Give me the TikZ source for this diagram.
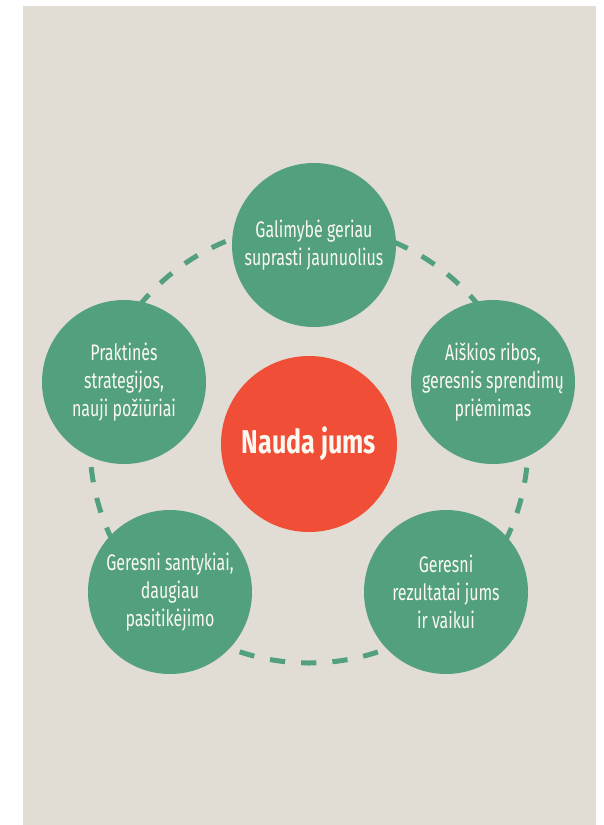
\documentclass[tikz,border=0pt]{standalone}
\usepackage{fontspec}
\setmainfont{Fira Sans}[FakeStretch=0.71]
\newfontfamily\hubfont{Fira Sans}[FakeStretch=0.76]
\usetikzlibrary{positioning}
\definecolor{paper}{RGB}{225,221,213}
\definecolor{leaf}{RGB}{82,160,126}
\definecolor{tomato}{RGB}{240,78,55}
\definecolor{chalk}{RGB}{250,248,240}
\tikzstyle{benefit} = [circle, fill=leaf, text=chalk, minimum size=164, inner sep=0pt, align=center, font=\fontsize{22.5pt}{28pt}\selectfont]
\tikzstyle{hub} = [circle, fill=tomato, text=chalk, minimum size=176, inner sep=0pt, font=\hubfont\fontsize{33pt}{38pt}\selectfont\bfseries]
\tikzset{ring/.style = {
    draw=leaf,
    line width=5,
    dash pattern=on 15.3 off 16, dash phase=7.65,
  }
}

\begin{document}
\begin{tikzpicture}[x=1pt, y=-1pt]
            \useasboundingbox (0,0) rectangle (604,825);
            \fill[paper] (22.5,6) rectangle (596,825);

            % centre
            \node[hub] (nauda) at (309,444) {Nauda jums};

            % ring
            \draw[ring] (nauda.center) circle[radius=219];

            % benefits
            \node[benefit] (b1) at (314,245) {Galimybė geriau\\suprasti jaunuolius};
            \node[benefit] (b2) at (493,382) {Aiškios ribos,\\geresnis sprendimų\\priėmimas};
            \node[benefit] (b3) at (446,592) {Geresni\\rezultatai jums\\ir vaikui};
            \node[benefit] (b4) at (170,592) {Geresni santykiai,\\daugiau\\pasitikėjimo};
            \node[benefit] (b5) at (124,382) {Praktinės\\strategijos,\\nauji požiūriai};

          \end{tikzpicture}
\end{document}
